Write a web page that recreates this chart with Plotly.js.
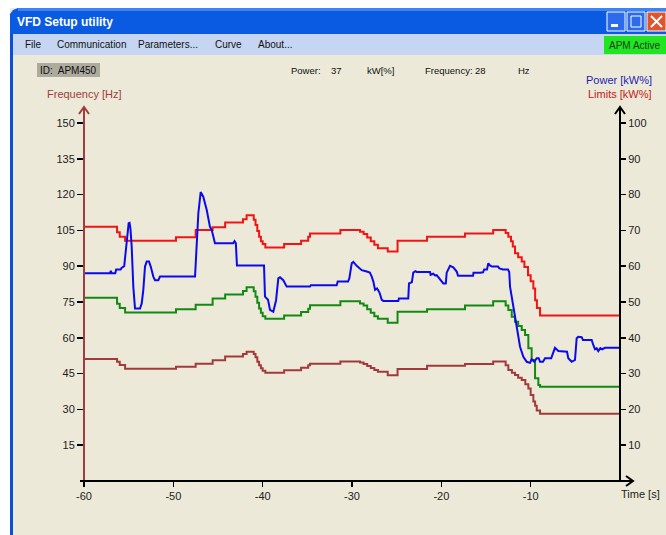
<!DOCTYPE html>
<html>
<head>
<meta charset="utf-8">
<script src="https://cdn.plot.ly/plotly-3.0.1.min.js"></script>
<style>html,body{margin:0;padding:0;background:#fff;overflow:hidden}#chart{width:666px;height:535px}</style>
</head>
<body>
<div id="chart"></div>
<script>
// ---- Data ----
// Power [kW%] (blue, right axis)
const powerT = [
-60, -57.1, -57.0, -56.9, -56.5, -56.4, -55.9, -55.8, -55.5, -55.4,
-55.25, -55.0, -54.9, -54.8, -54.66, -54.48, -54.29, -53.73, -53.54, -53.36,
-53.17, -52.98, -52.72, -52.53, -52.24, -52.05, -51.68, -51.49, -47.57, -47.38,
-47.20, -46.94, -46.65, -46.26, -45.90, -45.7, -45.5, -45.34, -43.3, -43.15,
-43.0, -42.88, -39.85, -39.74, -39.40, -39.18, -38.81, -38.5, -38.25, -38.06,
-37.69, -37.31, -34.70, -34.6, -31.71, -31.6, -30.45, -30.3, -30.03, -29.85,
-29.47, -28.91, -28.35, -28.0, -27.79, -27.61, -27.42, -27.2, -27.05, -26.9,
-26.67, -26.49, -24.82, -24.75, -23.70, -23.62, -23.3, -23.14, -22.9, -22.76,
-21.27, -21.2, -20.9, -20.7, -20.52, -20.15, -19.78, -19.5, -19.40, -19.03,
-18.66, -18.28, -18.13, -16.45, -16.4, -15.67, -15.33, -15.2, -14.89, -14.74,
-14.6, -14.33, -13.66, -13.5, -13.10, -12.54, -12.4, -12.31, -12.12, -11.94,
-11.75, -11.56, -11.38, -11.19, -10.82, -10.44, -10.07, -9.89, -9.6, -9.32,
-9.1, -8.95, -8.62, -8.39, -7.7, -7.46, -7.28, -6.90, -5.93, -5.79,
-5.41, -5.04, -4.85, -4.67, -4.29, -4.15, -3.17, -2.99, -2.80, -2.61,
-2.43, -2.2, -2.0, -1.68, 0];
const powerKW = [
58.0, 58.0, 58.7, 58.0, 58.0, 59.1, 59.1, 59.5, 60.0, 62.5,
66.8, 72.0, 72.1, 70.5, 65.4, 54.3, 48.2, 48.2, 49.6, 53.4,
59.9, 61.3, 61.3, 59.9, 57.1, 56.1, 56.1, 57.1, 57.1, 65.4,
74.8, 80.7, 79.4, 75.7, 71.0, 70.1, 68.0, 66.4, 66.4, 67.0,
66.4, 60.2, 60.2, 51.5, 50.6, 47.8, 47.3, 50.5, 56.6, 56.9,
56.1, 54.3, 54.3, 54.7, 54.7, 55.7, 55.7, 56.6, 60.8, 61.2,
60.1, 58.9, 58.5, 58.2, 57.1, 55.7, 53.4, 53.8, 53.2, 52.5,
50.6, 50.3, 50.3, 51.0, 51.0, 55.2, 55.5, 58.2, 58.6, 58.4,
58.4, 57.6, 57.9, 57.4, 57.5, 56.3, 55.2, 55.2, 58.2, 60.1,
59.7, 58.5, 57.3, 57.3, 58.2, 58.2, 58.3, 59.1, 59.1, 60.8,
60.3, 59.9, 59.9, 59.4, 59.1, 59.1, 58.4, 54.3, 51.5, 48.7,
45.9, 43.1, 40.3, 37.5, 34.7, 33.3, 33.0, 34.0, 33.3, 34.3,
34.3, 33.3, 33.3, 34.3, 34.3, 36.1, 37.2, 36.3, 36.1, 34.3,
33.3, 33.8, 39.9, 40.3, 40.2, 39.4, 39.4, 38.0, 36.8, 37.1,
36.3, 37.1, 36.8, 37.2, 37.2];

// Upper limit [kW%] (red, right axis) - step changes
const upperT = [-60, -56.3, -56.0, -55.4, -49.7, -47.5, -45.6, -44.2, -42.2, -41.8,
-41.0, -40.8, -40.6, -40.4, -40.2, -40.0, -39.7, -37.6, -35.7, -34.9,
-34.7, -31.3, -29.1, -28.7, -28.3, -27.9, -27.5, -27.1, -26.0, -24.9,
-21.6, -17.35, -14.2, -12.8, -12.5, -12.2, -12.0, -11.75, -11.4, -11.0,
-10.7, -10.3, -10.0, -9.7, -9.5, -9.3, -8.95, 0];
const upperKW = [71.0, 69.5, 68.2, 67.1, 68.1, 70.1, 70.9, 72.2, 73.1, 74.2,
73.0, 71.5, 69.8, 68.2, 67.0, 66.2, 65.2, 66.2, 67.1, 68.2,
69.1, 70.1, 69.6, 69.0, 68.0, 67.0, 66.0, 65.0, 64.1, 67.1,
68.2, 69.1, 70.1, 69.3, 68.2, 67.0, 65.5, 63.6, 62.5, 61.3,
59.8, 57.5, 55.8, 53.8, 50.5, 48.3, 46.2, 46.2];

// Lower limit [kW%] (green, right axis)
const lowerT = [-60, -56.3, -56.0, -55.4, -49.7, -47.5, -45.6, -44.2, -42.2, -41.8,
-41.0, -40.8, -40.6, -40.4, -40.2, -40.0, -39.7, -37.6, -35.7, -34.9,
-34.7, -31.3, -29.1, -28.7, -28.3, -27.9, -27.5, -27.1, -26.0, -24.9,
-21.6, -17.35, -14.2, -12.8, -12.5, -12.12, -11.75, -11.4, -11.0, -10.63,
-10.26, -9.89, -9.51, -9.14, -8.95, 0];
const lowerKW = [51.2, 49.5, 48.3, 47.1, 48.0, 49.2, 51.0, 52.1, 53.1, 54.1,
53.0, 51.5, 49.8, 48.2, 47.0, 46.0, 45.3, 46.2, 47.2, 48.1,
49.1, 50.2, 49.6, 49.0, 48.0, 47.0, 46.0, 45.3, 44.2, 47.3,
48.0, 49.0, 50.2, 49.0, 47.8, 45.9, 44.5, 43.3, 42.2, 40.8,
37.1, 33.8, 28.7, 26.8, 26.3, 26.3];

// Frequency [Hz] (brown, left axis)
const freqT = [-60, -56.3, -56.0, -55.4, -49.7, -47.5, -45.6, -44.2, -42.2, -41.8,
-41.0, -40.8, -40.6, -40.4, -40.2, -40.0, -39.7, -37.6, -35.7, -34.9,
-34.7, -31.3, -29.1, -28.7, -28.3, -27.9, -27.5, -27.1, -26.0, -24.9,
-21.6, -17.35, -14.2, -12.8, -12.5, -12.1, -11.75, -11.4, -11.0, -10.6,
-10.26, -10.0, -9.7, -9.5, -9.32, -8.95, 0];
const freqHz = [51.1, 50.0, 48.6, 47.0, 47.9, 49.1, 50.6, 52.2, 53.2, 54.2,
53.2, 51.8, 50.0, 48.5, 47.2, 46.2, 45.4, 46.4, 47.5, 48.5,
49.1, 50.1, 49.6, 49.0, 48.2, 47.3, 46.5, 45.8, 44.3, 46.9,
48.3, 49.0, 50.1, 48.5, 46.5, 45.4, 44.4, 43.3, 42.3, 40.5,
38.8, 36.0, 33.3, 31.5, 29.5, 28.2, 28.2];

const timeTicks = [-60, -50, -40, -30, -20, -10];
const timeTickText = ['-60', '-50', '-40', '-30', '-20', '-10'];
const freqTicks = [15, 30, 45, 60, 75, 90, 105, 120, 135, 150];
const powerTicks = [10, 20, 30, 40, 50, 60, 70, 80, 90, 100];
const menuItems = ['File', 'Communication', 'Parameters...', 'Curve', 'About...'];
const currentPower = '37';
const currentFreq = '28';

// ---- Layout helpers (pixel -> paper) ----
const L = 84, T = 107, PW = 536, PH = 374;
const px = x => (x - L) / PW;
const py = y => 1 - (y - T) / PH;
const FONT = 'Liberation Sans, Arial, sans-serif';
function rect(x0, y0, x1, y1, fill, line, layer) {
  return {type: 'rect', xref: 'paper', yref: 'paper', x0: px(x0), x1: px(x1), y0: py(y1), y1: py(y0),
    fillcolor: fill, line: line || {width: 0}, layer: layer || 'below'};
}
function path(pts, color, w, fill, layer) {
  return {type: 'path', xref: 'paper', yref: 'paper',
    path: 'M ' + pts.map(p => px(p[0]) + ',' + py(p[1])).join(' L ') + (fill ? ' Z' : ''),
    line: {color: color, width: w}, fillcolor: fill || 'rgba(0,0,0,0)', layer: layer || 'above'};
}
function ann(text, x, y, o) {
  o = o || {};
  return {xref: 'paper', yref: 'paper', x: px(x), y: py(y), text: text, showarrow: false,
    xanchor: o.xa || 'left', yanchor: 'middle', borderpad: 0,
    font: {family: FONT, size: o.size || 11, color: o.color || '#111'}};
}

const shapes = [
  rect(0, 0, 666, 535, '#ECE9D8'),
  rect(0, 0, 666, 8, '#FFFFFF'),
  rect(0, 0, 10, 535, '#FFFFFF'),
  path([[10,34],[10,14],[13,10],[18,8],[666,8],[666,34]], '#0A52D8', 0, '#0A5BE2', 'below'),
  rect(18, 8, 666, 11, '#3B84F2'),
  rect(10, 34, 666, 55, '#C6D6F2'),
  rect(10, 34, 13, 535, '#0A4FD6'),
  // title-bar buttons
  rect(607, 12, 625, 31, '#2D6BEA', {color: '#FFFFFF', width: 1}, 'above'),
  rect(611, 24, 618, 27, '#FFFFFF', null, 'above'),
  rect(627, 12, 645, 31, '#2D6BEA', {color: '#FFFFFF', width: 1}, 'above'),
  rect(631, 16, 641, 27, 'rgba(0,0,0,0)', {color: '#FFFFFF', width: 1}, 'above'),
  rect(647, 12, 666, 31, '#E0552E', {color: '#FFFFFF', width: 1}, 'above'),
  path([[651,16],[662,27]], '#FFFFFF', 2),
  path([[662,16],[651,27]], '#FFFFFF', 2),
  // status boxes
  rect(604, 36, 666, 54, '#1FE61F'),
  rect(37, 63, 100, 77, '#ADAA9E'),
  // axes lines with arrows
  path([[84,481],[84,108]], '#9E3E3E', 2),
  path([[79,114],[84,107],[89,114]], '#9E3E3E', 2),
  path([[620,481],[620,108]], '#000000', 2),
  path([[615,114],[620,107],[625,114]], '#000000', 2),
  path([[80,481],[632,481]], '#000000', 2),
  path([[626,476],[633,481],[626,486]], '#000000', 2)
];

const menuX = [24, 56, 137, 214, 257];
const annotations = [
  {xref: 'paper', yref: 'paper', x: px(15), y: py(22), text: '<b>VFD Setup utility</b>', showarrow: false,
   xanchor: 'left', yanchor: 'middle', font: {family: FONT, size: 12, color: '#FFFFFF'}},
  ...menuItems.map((m, i) => ann(m, menuX[i], 44.5, {size: 10})),
  ann('APM Active', 635, 45, {xa: 'center', size: 10, color: '#1E3A1E'}),
  ann('ID:  APM450', 39, 70, {size: 10}),
  ann('Power:', 290, 70, {size: 9.5}),
  ann(currentPower, 330, 70, {size: 9.5}),
  ann('kW[%]', 366, 70, {size: 9.5}),
  ann('Frequency:', 424, 70, {size: 9.5}),
  ann(currentFreq, 474, 70, {size: 9.5}),
  ann('Hz', 517, 70, {size: 9.5}),
  ann('Frequency [Hz]', 46, 94, {size: 11, color: '#9E3E3E'}),
  ann('Power [kW%]', 653, 80, {xa: 'right', size: 11, color: '#1E1EB4'}),
  ann('Limits [kW%]', 653, 94, {xa: 'right', size: 11, color: '#C42020'}),
  ann('Time [s]', 620, 494, {size: 11, color: '#222'})
];

const traces = [
  {x: upperT, y: upperKW, yaxis: 'y2', type: 'scatter', mode: 'lines', line: {color: '#F01414', width: 2, shape: 'hv'}},
  {x: lowerT, y: lowerKW, yaxis: 'y2', type: 'scatter', mode: 'lines', line: {color: '#128A12', width: 2, shape: 'hv'}},
  {x: freqT, y: freqHz, yaxis: 'y', type: 'scatter', mode: 'lines', line: {color: '#A33A3A', width: 2, shape: 'hv'}},
  {x: powerT, y: powerKW, yaxis: 'y2', type: 'scatter', mode: 'lines', line: {color: '#0A0AEE', width: 2}}
];

const tickFont = {family: FONT, size: 11, color: '#222'};
const layout = {
  width: 666, height: 535, autosize: false,
  margin: {l: L, r: 666 - L - PW, t: T, b: 535 - T - PH, pad: 0},
  paper_bgcolor: '#ECE9D8', plot_bgcolor: '#ECE9D8',
  showlegend: false,
  xaxis: {range: [-60, 0], tickmode: 'array', tickvals: timeTicks, ticktext: timeTickText, ticks: 'outside', ticklen: 5, tickwidth: 1.5, tickcolor: '#000',
    showgrid: false, zeroline: false, showline: false, tickfont: tickFont, fixedrange: true},
  yaxis: {range: [0, 156.7], tickmode: 'array', tickvals: freqTicks, ticks: 'outside', ticklen: 6, tickwidth: 1.5, tickcolor: '#000',
    showgrid: false, zeroline: false, showline: false, tickfont: tickFont, fixedrange: true},
  yaxis2: {range: [0, 104.47], overlaying: 'y', side: 'right', tickmode: 'array', tickvals: powerTicks, ticks: 'outside', ticklen: 5,
    tickwidth: 1.5, tickcolor: '#000', showgrid: false, zeroline: false, showline: false, tickfont: tickFont, fixedrange: true},
  shapes: shapes,
  annotations: annotations
};

Plotly.newPlot('chart', traces, layout, {staticPlot: true, displayModeBar: false});
</script>
</body>
</html>
